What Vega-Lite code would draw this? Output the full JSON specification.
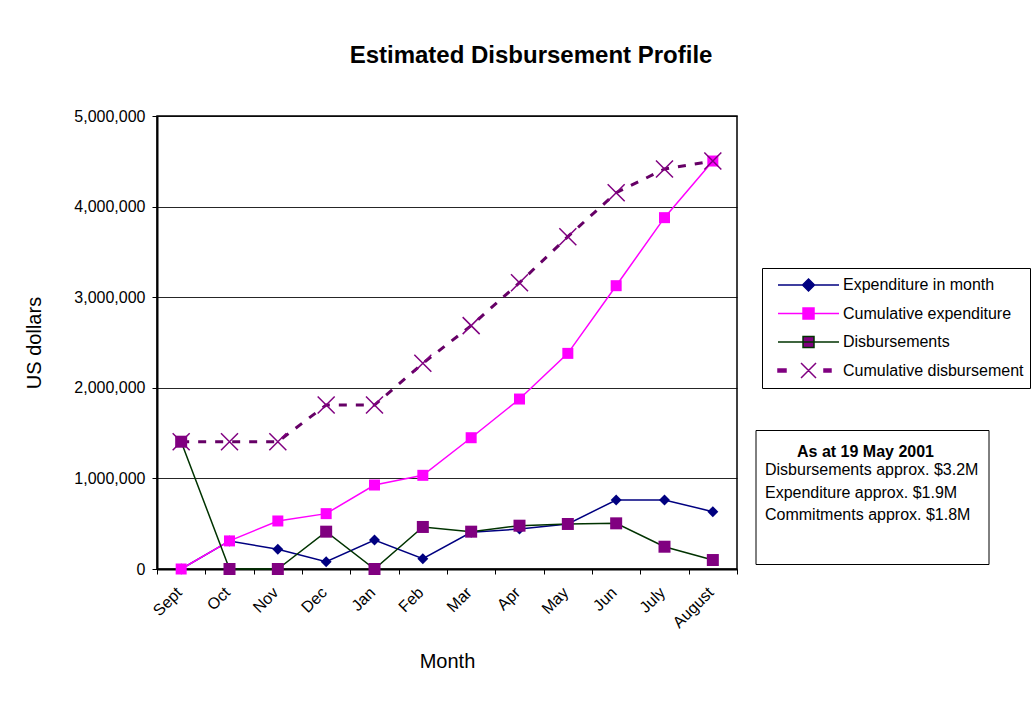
{
  "$schema": "https://vega.github.io/schema/vega-lite/v6.json",
  "width": 580,
  "height": 453,
  "autosize": {"type": "none"},
  "padding": {"left": 157, "top": 116, "right": 298, "bottom": 137},
  "background": "white",
  "config": {
    "font": "Liberation Sans",
    "view": {"stroke": "#000", "strokeWidth": 1.5},
    "axis": {"labelFont": "Liberation Sans", "titleFont": "Liberation Sans", "labelColor": "#000", "titleColor": "#000"},
    "legend": {"labelFont": "Liberation Sans", "titleFont": "Liberation Sans", "labelColor": "#000", "titleColor": "#000"}
  },
  "title": {
    "text": "Estimated Disbursement Profile",
    "fontSize": 24,
    "fontWeight": "bold",
    "font": "Liberation Sans",
    "color": "#000",
    "frame": "group",
    "anchor": "middle",
    "dx": 84,
    "offset": 40
  },
  "data": {
    "values": [
      {"month": "Sept", "series": "Expenditure in month", "value": 0},
      {"month": "Oct", "series": "Expenditure in month", "value": 310000},
      {"month": "Nov", "series": "Expenditure in month", "value": 217000},
      {"month": "Dec", "series": "Expenditure in month", "value": 81000},
      {"month": "Jan", "series": "Expenditure in month", "value": 320000},
      {"month": "Feb", "series": "Expenditure in month", "value": 114000},
      {"month": "Mar", "series": "Expenditure in month", "value": 405000},
      {"month": "Apr", "series": "Expenditure in month", "value": 441000},
      {"month": "May", "series": "Expenditure in month", "value": 497000},
      {"month": "Jun", "series": "Expenditure in month", "value": 762000},
      {"month": "July", "series": "Expenditure in month", "value": 762000},
      {"month": "August", "series": "Expenditure in month", "value": 633000},
      {"month": "Sept", "series": "Cumulative expenditure", "value": 0},
      {"month": "Oct", "series": "Cumulative expenditure", "value": 310000},
      {"month": "Nov", "series": "Cumulative expenditure", "value": 530000},
      {"month": "Dec", "series": "Cumulative expenditure", "value": 611000},
      {"month": "Jan", "series": "Cumulative expenditure", "value": 927000},
      {"month": "Feb", "series": "Cumulative expenditure", "value": 1034000},
      {"month": "Mar", "series": "Cumulative expenditure", "value": 1449000},
      {"month": "Apr", "series": "Cumulative expenditure", "value": 1876000},
      {"month": "May", "series": "Cumulative expenditure", "value": 2380000},
      {"month": "Jun", "series": "Cumulative expenditure", "value": 3127000},
      {"month": "July", "series": "Cumulative expenditure", "value": 3878000},
      {"month": "August", "series": "Cumulative expenditure", "value": 4503000},
      {"month": "Sept", "series": "Disbursements", "value": 1405000},
      {"month": "Oct", "series": "Disbursements", "value": 0},
      {"month": "Nov", "series": "Disbursements", "value": 0},
      {"month": "Dec", "series": "Disbursements", "value": 412000},
      {"month": "Jan", "series": "Disbursements", "value": 0},
      {"month": "Feb", "series": "Disbursements", "value": 464000},
      {"month": "Mar", "series": "Disbursements", "value": 412000},
      {"month": "Apr", "series": "Disbursements", "value": 478000},
      {"month": "May", "series": "Disbursements", "value": 497000},
      {"month": "Jun", "series": "Disbursements", "value": 504000},
      {"month": "July", "series": "Disbursements", "value": 246000},
      {"month": "August", "series": "Disbursements", "value": 99000},
      {"month": "Sept", "series": "Cumulative disbursement", "value": 1405000},
      {"month": "Oct", "series": "Cumulative disbursement", "value": 1405000},
      {"month": "Nov", "series": "Cumulative disbursement", "value": 1405000},
      {"month": "Dec", "series": "Cumulative disbursement", "value": 1810000},
      {"month": "Jan", "series": "Cumulative disbursement", "value": 1810000},
      {"month": "Feb", "series": "Cumulative disbursement", "value": 2270000},
      {"month": "Mar", "series": "Cumulative disbursement", "value": 2686000},
      {"month": "Apr", "series": "Cumulative disbursement", "value": 3160000},
      {"month": "May", "series": "Cumulative disbursement", "value": 3668000},
      {"month": "Jun", "series": "Cumulative disbursement", "value": 4153000},
      {"month": "July", "series": "Cumulative disbursement", "value": 4415000},
      {"month": "August", "series": "Cumulative disbursement", "value": 4503000}
    ]
  },
  "encoding": {
    "x": {
      "field": "month",
      "type": "ordinal",
      "sort": ["Sept", "Oct", "Nov", "Dec", "Jan", "Feb", "Mar", "Apr", "May", "Jun", "July", "August"],
      "scale": {"type": "band", "paddingInner": 0, "paddingOuter": 0},
      "axis": {
        "title": "Month",
        "titleFontSize": 20,
        "titleFontWeight": "normal",
        "titlePadding": 21,
        "labelFontSize": 16,
        "labelAngle": -45,
        "labelAlign": "right",
        "labelBaseline": "top",
        "labelPadding": 10,
        "labelOffset": -8,
        "tickBand": "extent",
        "tickSize": 5,
        "tickColor": "#000",
        "tickWidth": 1,
        "domainColor": "#000",
        "domainWidth": 2,
        "grid": false
      }
    },
    "y": {
      "field": "value",
      "type": "quantitative",
      "scale": {"domain": [0, 5000000], "nice": false},
      "axis": {
        "title": "US dollars",
        "titleFontSize": 20,
        "titleFontWeight": "normal",
        "titlePadding": 29,
        "values": [0, 1000000, 2000000, 3000000, 4000000, 5000000],
        "labelExpr": "format(datum.value, ',')",
        "labelFontSize": 16,
        "labelPadding": 7,
        "tickSize": 5,
        "tickColor": "#000",
        "domainColor": "#000",
        "domainWidth": 2,
        "grid": true,
        "gridColor": "#000",
        "gridWidth": 1,
        "gridOpacity": 0.85
      }
    }
  },
  "layer": [
    {
      "transform": [{"filter": "datum.series !== 'Cumulative disbursement'"}],
      "mark": {"type": "line", "strokeWidth": 1.5},
      "encoding": {
        "stroke": {
          "field": "series",
          "type": "nominal",
          "scale": {
            "domain": ["Expenditure in month", "Cumulative expenditure", "Disbursements", "Cumulative disbursement"],
            "range": ["#000080", "#FF00FF", "#003300", "#800080"]
          }
        }
      }
    },
    {
      "transform": [{"filter": "datum.series === 'Cumulative disbursement'"}],
      "mark": {"type": "line", "stroke": "#660066", "strokeWidth": 3, "strokeDash": [8, 9]},
      "encoding": {}
    },
    {
      "transform": [{"filter": "datum.series === 'Expenditure in month'"}],
      "mark": {"type": "point", "shape": "diamond", "filled": true, "color": "#000080", "size": 120, "opacity": 1},
      "encoding": {}
    },
    {
      "transform": [{"filter": "datum.series === 'Cumulative expenditure'"}],
      "mark": {"type": "point", "shape": "square", "filled": true, "color": "#FF00FF", "size": 121, "opacity": 1},
      "encoding": {}
    },
    {
      "transform": [{"filter": "datum.series === 'Disbursements'"}],
      "mark": {"type": "point", "shape": "square", "filled": true, "color": "#800080", "size": 144, "opacity": 1},
      "encoding": {}
    },
    {
      "transform": [{"filter": "datum.series === 'Cumulative disbursement'"}],
      "mark": {"type": "point", "shape": "M-1,-1L1,1M-1,1L1,-1", "filled": false, "stroke": "#800080", "strokeWidth": 1.5, "size": 289, "opacity": 1},
      "encoding": {}
    },
    {
      "mark": {"type": "point", "filled": true, "opacity": 0},
      "encoding": {
        "stroke": {
          "field": "series",
          "type": "nominal",
          "legend": {
            "orient": "none",
            "legendX": 605,
            "legendY": 152,
            "title": null,
            "padding": 6,
            "strokeColor": "#000",
            "fillColor": "#fff",
            "symbolSize": 4900,
            "symbolStrokeWidth": 1.5,
            "symbolOpacity": 1,
            "clipHeight": 22,
            "rowPadding": 6.5,
            "labelOffset": 3,
            "labelFontSize": 16,
            "labelLimit": 400
          }
        },
        "fill": {
          "field": "series",
          "type": "nominal",
          "scale": {
            "domain": ["Expenditure in month", "Cumulative expenditure", "Disbursements", "Cumulative disbursement"],
            "range": ["#000080", "#FF00FF", "#800080", "#800080"]
          }
        },
        "shape": {
          "field": "series",
          "type": "nominal",
          "scale": {
            "domain": ["Expenditure in month", "Cumulative expenditure", "Disbursements", "Cumulative disbursement"],
            "range": [
              "M-0.743,0H1M0.129,-0.171L0.3,0L0.129,0.171L-0.042,0Z",
              "M-0.743,0H1M-0.028,-0.157H0.286V0.157H-0.028Z",
              "M-0.743,0H1M-0.028,-0.157H0.286V0.157H-0.028Z",
              "M-0.743,-0.043H-0.514V0.043H-0.743ZM-0.085,-0.214L0.343,0.214M-0.085,0.214L0.343,-0.214M0.571,-0.043H0.771V0.043H0.571Z"
            ]
          }
        }
      }
    },
    {
      "data": {
        "values": [
          {"note": "Disbursements approx. $3.2M", "head": "As at 19 May 2001"},
          {"note": "Expenditure approx. $1.9M", "head": "As at 19 May 2001"},
          {"note": "Commitments approx. $1.8M", "head": "As at 19 May 2001"}
        ]
      },
      "mark": {"type": "point", "filled": true, "opacity": 0, "size": 0},
      "encoding": {
        "x": null,
        "y": null,
        "strokeDash": {
          "field": "note",
          "type": "nominal",
          "scale": {
            "domain": [" ", "Disbursements approx. $3.2M", "Expenditure approx. $1.9M", "Commitments approx. $1.8M"],
            "range": [[1, 0], [1, 0], [1, 0], [1, 0]]
          },
          "legend": {
            "orient": "none",
            "legendX": 598.5,
            "legendY": 314,
            "title": " ",
            "titleOrient": "bottom",
            "titleAnchor": "start",
            "titleFontSize": 24,
            "titlePadding": 6.5,
            "padding": 9.5,
            "strokeColor": "#000",
            "fillColor": "transparent",
            "symbolSize": 0,
            "symbolStrokeWidth": 0,
            "symbolOpacity": 0,
            "symbolFillColor": "transparent",
            "labelOffset": -16,
            "labelFontSize": 16,
            "labelLimit": 500,
            "rowPadding": 6.5
          }
        },
        "color": {
          "field": "head",
          "type": "nominal",
          "scale": {"domain": ["As at 19 May 2001"], "range": ["#ffffff"]},
          "legend": {
            "orient": "none",
            "legendX": 640,
            "legendY": 328,
            "title": null,
            "padding": 0,
            "strokeColor": "transparent",
            "fillColor": "transparent",
            "symbolSize": 0,
            "symbolStrokeWidth": 0,
            "symbolOpacity": 0,
            "labelOffset": -16,
            "labelFontSize": 16,
            "labelFontWeight": "bold",
            "labelLimit": 500
          }
        }
      }
    }
  ]
}
